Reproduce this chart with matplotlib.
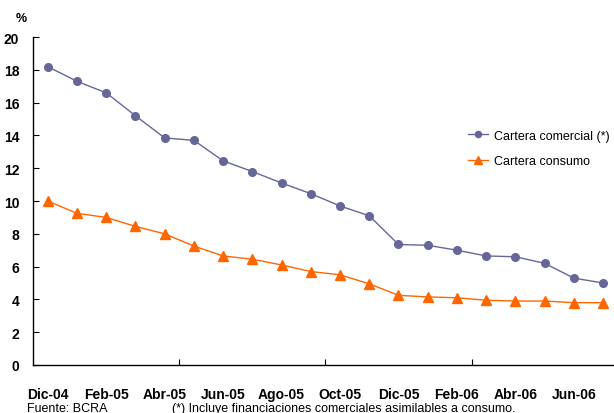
import matplotlib.pyplot as plt
import numpy as np

meses = ['Dic-04', 'Ene-05', 'Feb-05', 'Mar-05', 'Abr-05', 'May-05', 'Jun-05', 'Jul-05',
         'Ago-05', 'Sep-05', 'Oct-05', 'Nov-05', 'Dic-05', 'Ene-06', 'Feb-06', 'Mar-06',
         'Abr-06', 'May-06', 'Jun-06', 'Jul-06']
comercial = [18.2, 17.3, 16.6, 15.2, 13.85, 13.7, 12.45, 11.8, 11.1, 10.45,
             9.7, 9.1, 7.35, 7.3, 7.0, 6.65, 6.6, 6.2, 5.3, 5.0]
consumo = [10.0, 9.25, 9.0, 8.45, 8.0, 7.25, 6.65, 6.45, 6.1, 5.7,
           5.5, 4.95, 4.25, 4.15, 4.1, 3.95, 3.9, 3.9, 3.8, 3.8]

plt.rcParams['font.family'] = ['Liberation Sans', 'DejaVu Sans']

fig = plt.figure(figsize=(6.14, 4.14), dpi=100, facecolor='w')
ax = fig.add_axes([0.054, 0.116, 0.952, 0.792])

x = np.arange(len(meses))
ax.plot(x, comercial, color='#666699', lw=1, marker='o', ms=5.5,
        label='Cartera comercial (*)')
ax.plot(x, consumo, color='#FF6600', lw=1, marker='^', ms=6.5,
        label='Cartera consumo')

ax.set_xlim(-0.5, len(meses) - 0.5)
ax.set_ylim(0, 20)
ax.set_yticks(range(0, 21, 2))
ax.set_xticks(x[::2])
ax.set_xticklabels(meses[::2], fontsize=10, fontweight='bold')
ax.set_xticks([4.5, 9.5, 14.5], minor=True)
ax.tick_params(axis='x', which='major', length=0, pad=16)
ax.tick_params(axis='x', which='minor', direction='in', length=4, width=0.8)
ax.tick_params(axis='y', direction='in', length=4, width=0.8, labelsize=10, pad=10)
for lb in ax.get_yticklabels():
    lb.set_fontweight('bold')

for s in ['top', 'right']:
    ax.spines[s].set_visible(False)
for s in ['left', 'bottom']:
    ax.spines[s].set_linewidth(1)

ax.legend(loc='upper left', bbox_to_anchor=(0.725, 0.752), frameon=False,
          fontsize=9, handlelength=1.6, labelspacing=1.1, handletextpad=0.5,
          markerscale=0.8)

fig.text(0.025, 0.947, '%', fontsize=9, fontweight='bold')
fig.text(0.044, 0.004, 'Fuente: BCRA', fontsize=9)
fig.text(0.28, 0.004, '(*) Incluye financiaciones comerciales asimilables a consumo.', fontsize=9)

plt.savefig('out.png', dpi=100)
